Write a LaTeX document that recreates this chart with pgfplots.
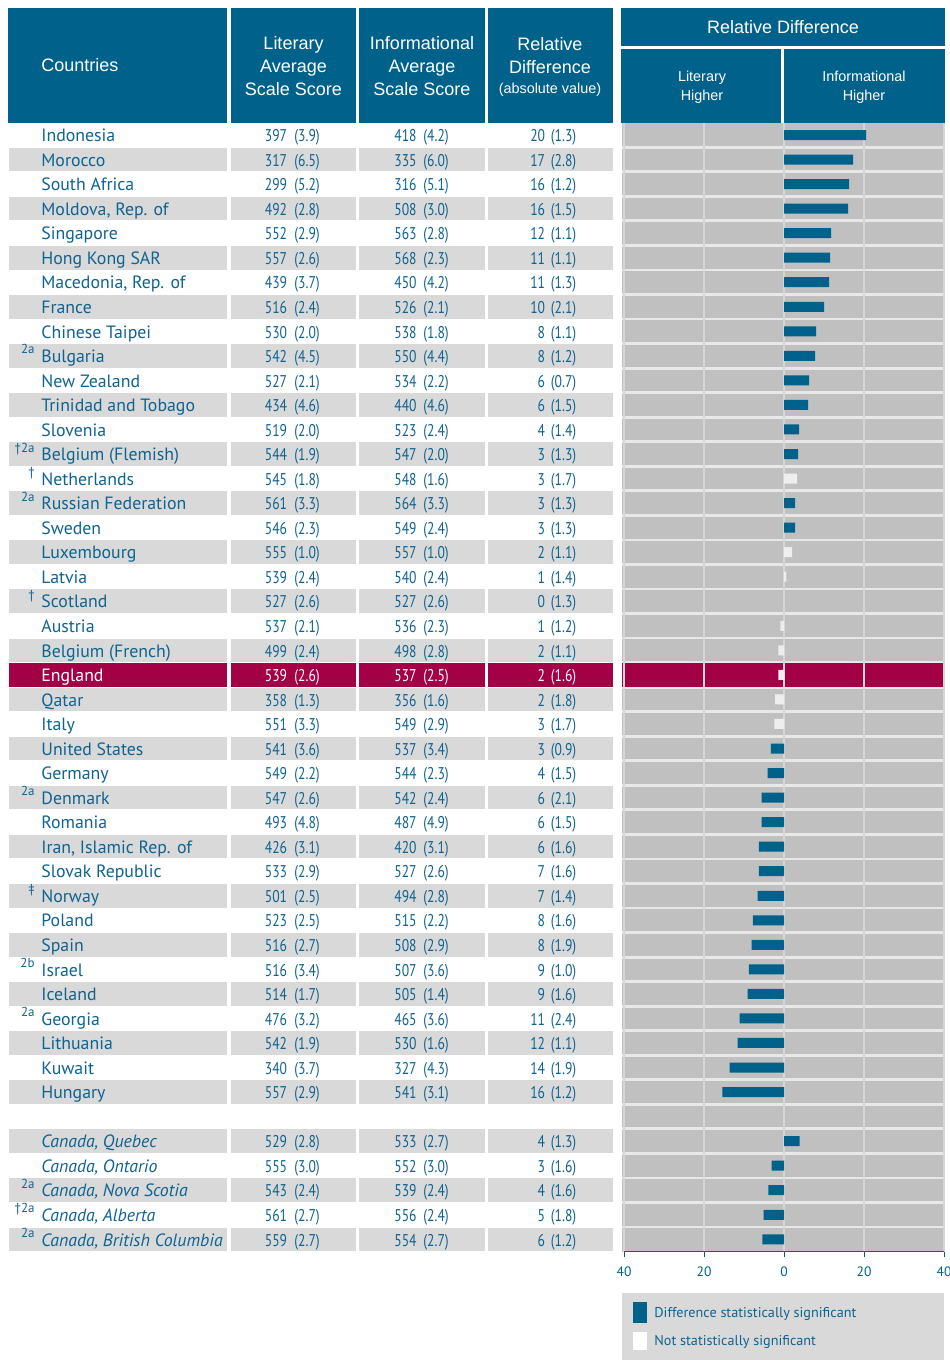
\documentclass[border=0pt]{standalone}
\usepackage{pgfplots}
\pgfplotsset{compat=1.18}
\usepackage{fontspec}
\setmainfont{PT Sans}
\newfontfamily\hfont{Liberation Sans}
\newfontfamily\cfont[FakeStretch=0.8]{PT Sans}

\definecolor{hblue}{HTML}{00628A}
\definecolor{tblue}{HTML}{0F6390}
\definecolor{crimson}{HTML}{A30046}
\definecolor{rowgray}{HTML}{D9D9D9}
\definecolor{panelgray}{HTML}{C0C0C0}
\definecolor{sepcol}{HTML}{E8E8E8}
\definecolor{gridcol}{HTML}{D6D6D6}
\definecolor{lightbar}{HTML}{EEEEEE}

\newcommand\namefont{\fontsize{8.9}{10}\selectfont}
\newcommand\numfont{\cfont\fontsize{8.5}{10}\selectfont}
\newcommand\supfont{\fontsize{6.5}{7}\selectfont}
\newcommand\headfont{\hfont\fontsize{9}{11}\selectfont}
\newcommand\smallhead{\hfont\fontsize{7.2}{9}\selectfont}
\newcommand\namestyle{}

% shaded band across the four table columns
\newcommand\shadeband[2]{%
  \foreach \a/\b in {9/227,231/356,359/485,488/613}{\fill[#1] (\a,#2-11.8) rectangle (\b,#2+11.8);}}

% slot, note, name, lit, (se), inf, (se), diff, (se)
\newcommand{\row}[9]{%
  \pgfmathsetmacro\yy{135+#1*24.54}%
  \ifodd#1\relax\shadeband{rowgray}{\yy}\fi
  \ifnum#1=22\relax\shadeband{crimson}{\yy}\def\tc{white}\else\def\tc{tblue}\fi
  \node[anchor=base east, inner sep=0, font=\supfont, text=\tc] at (35,\yy-2) {#2};
  \node[anchor=base west, inner sep=0, font=\namefont\namestyle, text=\tc] at (41,\yy+6.7) {#3};
  \node[anchor=base east, inner sep=0, font=\numfont, text=\tc] at (287.5,\yy+6.7) {#4};
  \node[anchor=base west, inner sep=0, font=\numfont, text=\tc] at (294,\yy+6.7) {#5};
  \node[anchor=base east, inner sep=0, font=\numfont, text=\tc] at (417,\yy+6.7) {#6};
  \node[anchor=base west, inner sep=0, font=\numfont, text=\tc] at (423,\yy+6.7) {#7};
  \node[anchor=base east, inner sep=0, font=\numfont, text=\tc] at (545.5,\yy+6.7) {#8};
  \node[anchor=base west, inner sep=0, font=\numfont, text=\tc] at (550.5,\yy+6.7) {#9};
}

\begin{document}
\begin{tikzpicture}[x=0.5pt,y=-0.5pt]
\useasboundingbox (0,0) rectangle (949,1360);
\clip (0,0) rectangle (949,1360);

% header boxes
\fill[hblue] (8,8) rectangle (227,122.7);
\fill[hblue] (231,8) rectangle (356,122.7);
\fill[hblue] (359,8) rectangle (485,122.7);
\fill[hblue] (488,8) rectangle (613,122.7);
\fill[hblue] (621,8) rectangle (945,46);
\fill[hblue] (621,49) rectangle (781,122.7);
\fill[hblue] (784,49) rectangle (945,122.7);

\begin{scope}[every node/.style={inner sep=0, text=white, font=\headfont}]
\node[anchor=base west] at (41,71.7) {Countries};
\node[anchor=base] at (293.5,49) {Literary};
\node[anchor=base] at (293.5,72) {Average};
\node[anchor=base] at (293.5,95) {Scale Score};
\node[anchor=base] at (422,49) {Informational};
\node[anchor=base] at (422,72) {Average};
\node[anchor=base] at (422,95) {Scale Score};
\node[anchor=base] at (550,50.5) {Relative};
\node[anchor=base] at (550,73.5) {Difference};
\node[anchor=base, font=\smallhead] at (550,93) {(absolute value)};
\node[anchor=base] at (783,33.3) {Relative Difference};
\node[anchor=base, font=\smallhead] at (702,81.7) {Literary};
\node[anchor=base, font=\smallhead] at (702,100.7) {Higher};
\node[anchor=base, font=\smallhead] at (864,81.7) {Informational};
\node[anchor=base, font=\smallhead] at (864,100.7) {Higher};
\end{scope}

% table
\row{0}{}{Indonesia}{397}{(3.9)}{418}{(4.2)}{20}{(1.3)}
\row{1}{}{Morocco}{317}{(6.5)}{335}{(6.0)}{17}{(2.8)}
\row{2}{}{South Africa}{299}{(5.2)}{316}{(5.1)}{16}{(1.2)}
\row{3}{}{Moldova, Rep. of}{492}{(2.8)}{508}{(3.0)}{16}{(1.5)}
\row{4}{}{Singapore}{552}{(2.9)}{563}{(2.8)}{12}{(1.1)}
\row{5}{}{Hong Kong SAR}{557}{(2.6)}{568}{(2.3)}{11}{(1.1)}
\row{6}{}{Macedonia, Rep. of}{439}{(3.7)}{450}{(4.2)}{11}{(1.3)}
\row{7}{}{France}{516}{(2.4)}{526}{(2.1)}{10}{(2.1)}
\row{8}{}{Chinese Taipei}{530}{(2.0)}{538}{(1.8)}{8}{(1.1)}
\row{9}{2a}{Bulgaria}{542}{(4.5)}{550}{(4.4)}{8}{(1.2)}
\row{10}{}{New Zealand}{527}{(2.1)}{534}{(2.2)}{6}{(0.7)}
\row{11}{}{Trinidad and Tobago}{434}{(4.6)}{440}{(4.6)}{6}{(1.5)}
\row{12}{}{Slovenia}{519}{(2.0)}{523}{(2.4)}{4}{(1.4)}
\row{13}{\textdagger2a}{Belgium (Flemish)}{544}{(1.9)}{547}{(2.0)}{3}{(1.3)}
\row{14}{\textdagger}{Netherlands}{545}{(1.8)}{548}{(1.6)}{3}{(1.7)}
\row{15}{2a}{Russian Federation}{561}{(3.3)}{564}{(3.3)}{3}{(1.3)}
\row{16}{}{Sweden}{546}{(2.3)}{549}{(2.4)}{3}{(1.3)}
\row{17}{}{Luxembourg}{555}{(1.0)}{557}{(1.0)}{2}{(1.1)}
\row{18}{}{Latvia}{539}{(2.4)}{540}{(2.4)}{1}{(1.4)}
\row{19}{\textdagger}{Scotland}{527}{(2.6)}{527}{(2.6)}{0}{(1.3)}
\row{20}{}{Austria}{537}{(2.1)}{536}{(2.3)}{1}{(1.2)}
\row{21}{}{Belgium (French)}{499}{(2.4)}{498}{(2.8)}{2}{(1.1)}
\row{22}{}{England}{539}{(2.6)}{537}{(2.5)}{2}{(1.6)}
\row{23}{}{Qatar}{358}{(1.3)}{356}{(1.6)}{2}{(1.8)}
\row{24}{}{Italy}{551}{(3.3)}{549}{(2.9)}{3}{(1.7)}
\row{25}{}{United States}{541}{(3.6)}{537}{(3.4)}{3}{(0.9)}
\row{26}{}{Germany}{549}{(2.2)}{544}{(2.3)}{4}{(1.5)}
\row{27}{2a}{Denmark}{547}{(2.6)}{542}{(2.4)}{6}{(2.1)}
\row{28}{}{Romania}{493}{(4.8)}{487}{(4.9)}{6}{(1.5)}
\row{29}{}{Iran, Islamic Rep. of}{426}{(3.1)}{420}{(3.1)}{6}{(1.6)}
\row{30}{}{Slovak Republic}{533}{(2.9)}{527}{(2.6)}{7}{(1.6)}
\row{31}{\textdaggerdbl}{Norway}{501}{(2.5)}{494}{(2.8)}{7}{(1.4)}
\row{32}{}{Poland}{523}{(2.5)}{515}{(2.2)}{8}{(1.6)}
\row{33}{}{Spain}{516}{(2.7)}{508}{(2.9)}{8}{(1.9)}
\row{34}{2b}{Israel}{516}{(3.4)}{507}{(3.6)}{9}{(1.0)}
\row{35}{}{Iceland}{514}{(1.7)}{505}{(1.4)}{9}{(1.6)}
\row{36}{2a}{Georgia}{476}{(3.2)}{465}{(3.6)}{11}{(2.4)}
\row{37}{}{Lithuania}{542}{(1.9)}{530}{(1.6)}{12}{(1.1)}
\row{38}{}{Kuwait}{340}{(3.7)}{327}{(4.3)}{14}{(1.9)}
\row{39}{}{Hungary}{557}{(2.9)}{541}{(3.1)}{16}{(1.2)}
\renewcommand\namestyle{\itshape}
\row{41}{}{Canada, Quebec}{529}{(2.8)}{533}{(2.7)}{4}{(1.3)}
\row{42}{}{Canada, Ontario}{555}{(3.0)}{552}{(3.0)}{3}{(1.6)}
\row{43}{2a}{Canada, Nova Scotia}{543}{(2.4)}{539}{(2.4)}{4}{(1.6)}
\row{44}{\textdagger2a}{Canada, Alberta}{561}{(2.7)}{556}{(2.4)}{5}{(1.8)}
\row{45}{2a}{Canada, British Columbia}{559}{(2.7)}{554}{(2.7)}{6}{(1.2)}

% legend
\fill[rowgray] (622,1293) rectangle (944,1360);
\fill[hblue] (633,1302) rectangle (647,1323);
\fill[white] (633,1332) rectangle (647,1350);
\node[anchor=base west, inner sep=0, font=\fontsize{7.1}{9}\selectfont, text=tblue] at (654,1317) {Difference statistically significant};
\node[anchor=base west, inner sep=0, font=\fontsize{7.1}{9}\selectfont, text=tblue] at (654,1345) {Not statistically significant};

\begin{axis}[
  at={(392pt,-343.575pt)}, anchor=center,
  x=2pt, y=12.27pt,
  xmin=-40, xmax=40, ymin=-45.5, ymax=0.5,
  clip=false, axis on top,
  axis x line*=bottom, axis y line=none,
  xtick={-40,-20,0,20,40}, xticklabels={40,20,0,20,40},
  ytick=\empty,
  tick align=outside, major tick length=2.5pt,
  x axis line style={hblue, line width=0.5pt},
  xtick style={hblue, line width=0.5pt},
  xticklabel style={font=\fontsize{6.8}{7}\selectfont, text=hblue, yshift=-1.5pt},
  /pgf/number format/assume math mode=true,
]
\fill[panelgray] (axis cs:-40.5,-45.5) rectangle (axis cs:40.25,0.5);
\pgfplotsinvokeforeach{0,...,44}{\draw[sepcol, line width=1.4pt] (axis cs:-40.5,{-#1-0.5}) -- (axis cs:40.25,{-#1-0.5});}
\fill[crimson] (axis cs:-40.5,-21.5) rectangle (axis cs:40.25,-22.5);
\pgfplotsinvokeforeach{-40,-20,0,20,40}{\draw[gridcol, line width=1pt] (axis cs:#1,-45.5) -- (axis cs:#1,0.5);}
% significant differences (negative = literary higher)
\addplot[xbar, bar width=5pt, bar shift=0pt, draw=none, fill=hblue] coordinates {
 (20.5,0) (17.25,-1) (16.25,-2) (16,-3) (11.75,-4) (11.5,-5) (11.25,-6) (10,-7)
 (8,-8) (7.75,-9) (6.25,-10) (6,-11) (3.75,-12) (3.5,-13) (2.75,-15) (2.75,-16)
 (-3.3,-25) (-4.1,-26) (-5.6,-27) (-5.6,-28) (-6.3,-29) (-6.3,-30) (-6.6,-31)
 (-7.8,-32) (-8.1,-33) (-8.8,-34) (-9.1,-35) (-11.1,-36) (-11.6,-37) (-13.6,-38)
 (-15.4,-39) (3.9,-41) (-3.1,-42) (-3.9,-43) (-5.1,-44) (-5.4,-45)};
% not significant
\addplot[xbar, bar width=5pt, bar shift=0pt, draw=none, fill=lightbar] coordinates {
 (3.25,-14) (2,-17) (0.6,-18) (-0.9,-20) (-1.4,-21) (-1.4,-22) (-2.2,-23) (-2.4,-24)};
\end{axis}
\end{tikzpicture}
\end{document}
